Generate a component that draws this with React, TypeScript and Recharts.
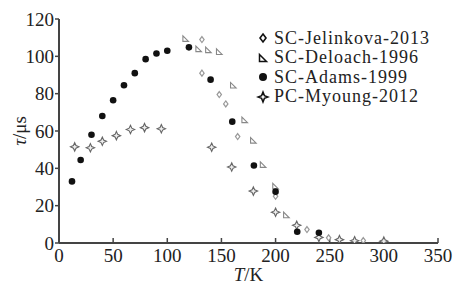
import React from 'react';
import { ScatterChart, Scatter, XAxis, YAxis, Label } from 'recharts';

const xTicks = [0, 50, 100, 150, 200, 250, 300, 350];
const yTicks = [0, 20, 40, 60, 80, 100, 120];

const jelinkovaT = [132, 132, 148, 154, 165, 200, 229, 249, 281];
const jelinkovaTau = [109, 91, 79.5, 74.5, 57, 25, 7.2, 2.8, 1.3];

const deloachT = [117, 129, 138, 148, 161, 171.5, 179.5, 188.5, 200, 210];
const deloachTau = [109.5, 104, 103.5, 102.5, 84.5, 66, 55, 42, 30.5, 15];

const adamsT = [12, 20, 30, 40, 50, 60, 70, 80, 90, 100, 120, 140, 160, 180, 200, 220, 240];
const adamsTau = [33, 44.5, 58, 68, 76.5, 84.5, 91, 98.5, 101.5, 103, 104.8, 87.5, 65, 41.5, 27.5, 6, 5.5];

const myoungT = [14.5, 29, 40, 53, 66, 79, 94.5, 141, 159.5, 179.5, 200, 219.5, 240, 259, 273, 300];
const myoungTau = [51.5, 51, 54.5, 57.5, 60.8, 61.8, 61.2, 51.3, 40.7, 27.8, 16.5, 9.5, 3, 1.8, 1.2, 1];

const seriesNames = ['SC-Jelinkova-2013', 'SC-Deloach-1996', 'SC-Adams-1999', 'PC-Myoung-2012'];

const zip = (xs: number[], ys: number[]) => xs.map((x, i) => ({ x, y: ys[i] }));

const FONT = 'Liberation Serif';
const AXIS = '#444';

const diamondPath = (cx: number, cy: number, w: number, h: number) =>
  `M${cx},${cy - h}L${cx + w},${cy}L${cx},${cy + h}L${cx - w},${cy}Z`;
const triPath = (cx: number, cy: number, s: number) =>
  `M${cx - s},${cy - s}L${cx - s},${cy + s}L${cx + s},${cy + s}Z`;
const starPath = (cx: number, cy: number, r: number, a: number) =>
  `M${cx},${cy - r}L${cx + a},${cy - a}L${cx + r},${cy}L${cx + a},${cy + a}L${cx},${cy + r}L${cx - a},${cy + a}L${cx - r},${cy}L${cx - a},${cy - a}Z`;

const DiamondShape = (p: any) => (
  <path d={diamondPath(p.cx, p.cy, 2.2, 3)} fill="#fff" stroke="#999" strokeWidth={1.2} />
);
const TriShape = (p: any) => (
  <path d={triPath(p.cx, p.cy, 2.8)} fill="#fff" stroke="#888" strokeWidth={1.1} />
);
const CircleShape = (p: any) => <circle cx={p.cx} cy={p.cy} r={3.3} fill="#111" />;
const StarShape = (p: any) => (
  <path d={starPath(p.cx, p.cy, 4.2, 1.3)} fill="#eee" stroke="#666" strokeWidth={1.1} />
);

const legendIcons = [
  <path key="d" d={diamondPath(7, 7, 3, 4)} fill="#fff" stroke="#111" strokeWidth={1.6} />,
  <path key="t" d={triPath(7, 7, 3.5)} fill="#fff" stroke="#111" strokeWidth={1.5} />,
  <circle key="c" cx={7} cy={7} r={4} fill="#111" />,
  <path key="s" d={starPath(7, 7, 5, 1.4)} fill="#fff" stroke="#111" strokeWidth={1.5} />,
];

const LegendBox = () => (
  <div
    style={{
      position: 'absolute',
      left: 256,
      top: 28.5,
      fontFamily: FONT,
      fontSize: 18,
      letterSpacing: 1,
      color: '#222',
      lineHeight: '19.5px',
    }}
  >
    {seriesNames.map((n, i) => (
      <div key={n} style={{ display: 'flex', alignItems: 'center', height: 19.5, whiteSpace: 'nowrap' }}>
        <svg width={14} height={14} style={{ marginRight: 4 }}>
          {legendIcons[i]}
        </svg>
        <span>{n}</span>
      </div>
    ))}
  </div>
);

export default function App() {
  return (
    <div style={{ position: 'absolute', left: 0, top: 0, width: 457, height: 285, background: '#fff' }}>
      <ScatterChart width={457} height={285} margin={{ top: 19, right: 19, bottom: 0, left: 0 }}>
        <XAxis
          xAxisId="b"
          type="number"
          dataKey="x"
          domain={[0, 350]}
          ticks={xTicks}
          interval={0}
          allowDataOverflow
          height={42}
          axisLine={{ stroke: AXIS, strokeWidth: 2 }}
          tickLine={{ stroke: AXIS, strokeWidth: 1.5 }}
          tickSize={-5}
          tickMargin={11}
          tick={{ fontFamily: FONT, fontSize: 19, fill: '#222' }}
        >
          <Label
            content={(props: any) => {
              const vb = props.viewBox;
              return (
                <text x={vb.x + vb.width / 2} y={281} textAnchor="middle" fontFamily={FONT} fontSize={19} fill="#222">
                  <tspan fontStyle="italic">T</tspan>
                  <tspan>/K</tspan>
                </text>
              );
            }}
          />
        </XAxis>
        <XAxis
          xAxisId="t"
          orientation="top"
          type="number"
          domain={[0, 350]}
          height={0}
          tick={false}
          tickLine={false}
          axisLine={{ stroke: AXIS, strokeWidth: 2 }}
        />
        <YAxis
          yAxisId="l"
          type="number"
          dataKey="y"
          domain={[0, 120]}
          ticks={yTicks}
          interval={0}
          allowDataOverflow
          width={59}
          axisLine={{ stroke: AXIS, strokeWidth: 2 }}
          tickLine={{ stroke: AXIS, strokeWidth: 1.5 }}
          tickSize={4}
          tickMargin={1}
          tick={{ fontFamily: FONT, fontSize: 19, fill: '#222' }}
        >
          <Label
            content={(props: any) => {
              const vb = props.viewBox;
              const cy = vb.y + vb.height / 2;
              return (
                <text
                  x={19}
                  y={cy}
                  transform={`rotate(-90 19 ${cy})`}
                  textAnchor="middle"
                  dominantBaseline="central"
                  fontFamily={FONT}
                  fontSize={19}
                  fill="#222"
                >
                  <tspan fontStyle="italic">τ</tspan>
                  <tspan>/μs</tspan>
                </text>
              );
            }}
          />
        </YAxis>
        <YAxis
          yAxisId="r"
          orientation="right"
          type="number"
          domain={[0, 120]}
          width={0}
          tick={false}
          tickLine={false}
          axisLine={{ stroke: AXIS, strokeWidth: 2 }}
        />
        <Scatter xAxisId="b" yAxisId="l" name={seriesNames[0]} data={zip(jelinkovaT, jelinkovaTau)} shape={DiamondShape} isAnimationActive={false} />
        <Scatter xAxisId="b" yAxisId="l" name={seriesNames[1]} data={zip(deloachT, deloachTau)} shape={TriShape} isAnimationActive={false} />
        <Scatter xAxisId="b" yAxisId="l" name={seriesNames[3]} data={zip(myoungT, myoungTau)} shape={StarShape} isAnimationActive={false} />
        <Scatter xAxisId="b" yAxisId="l" name={seriesNames[2]} data={zip(adamsT, adamsTau)} shape={CircleShape} isAnimationActive={false} />
      </ScatterChart>
      <LegendBox />
    </div>
  );
}
